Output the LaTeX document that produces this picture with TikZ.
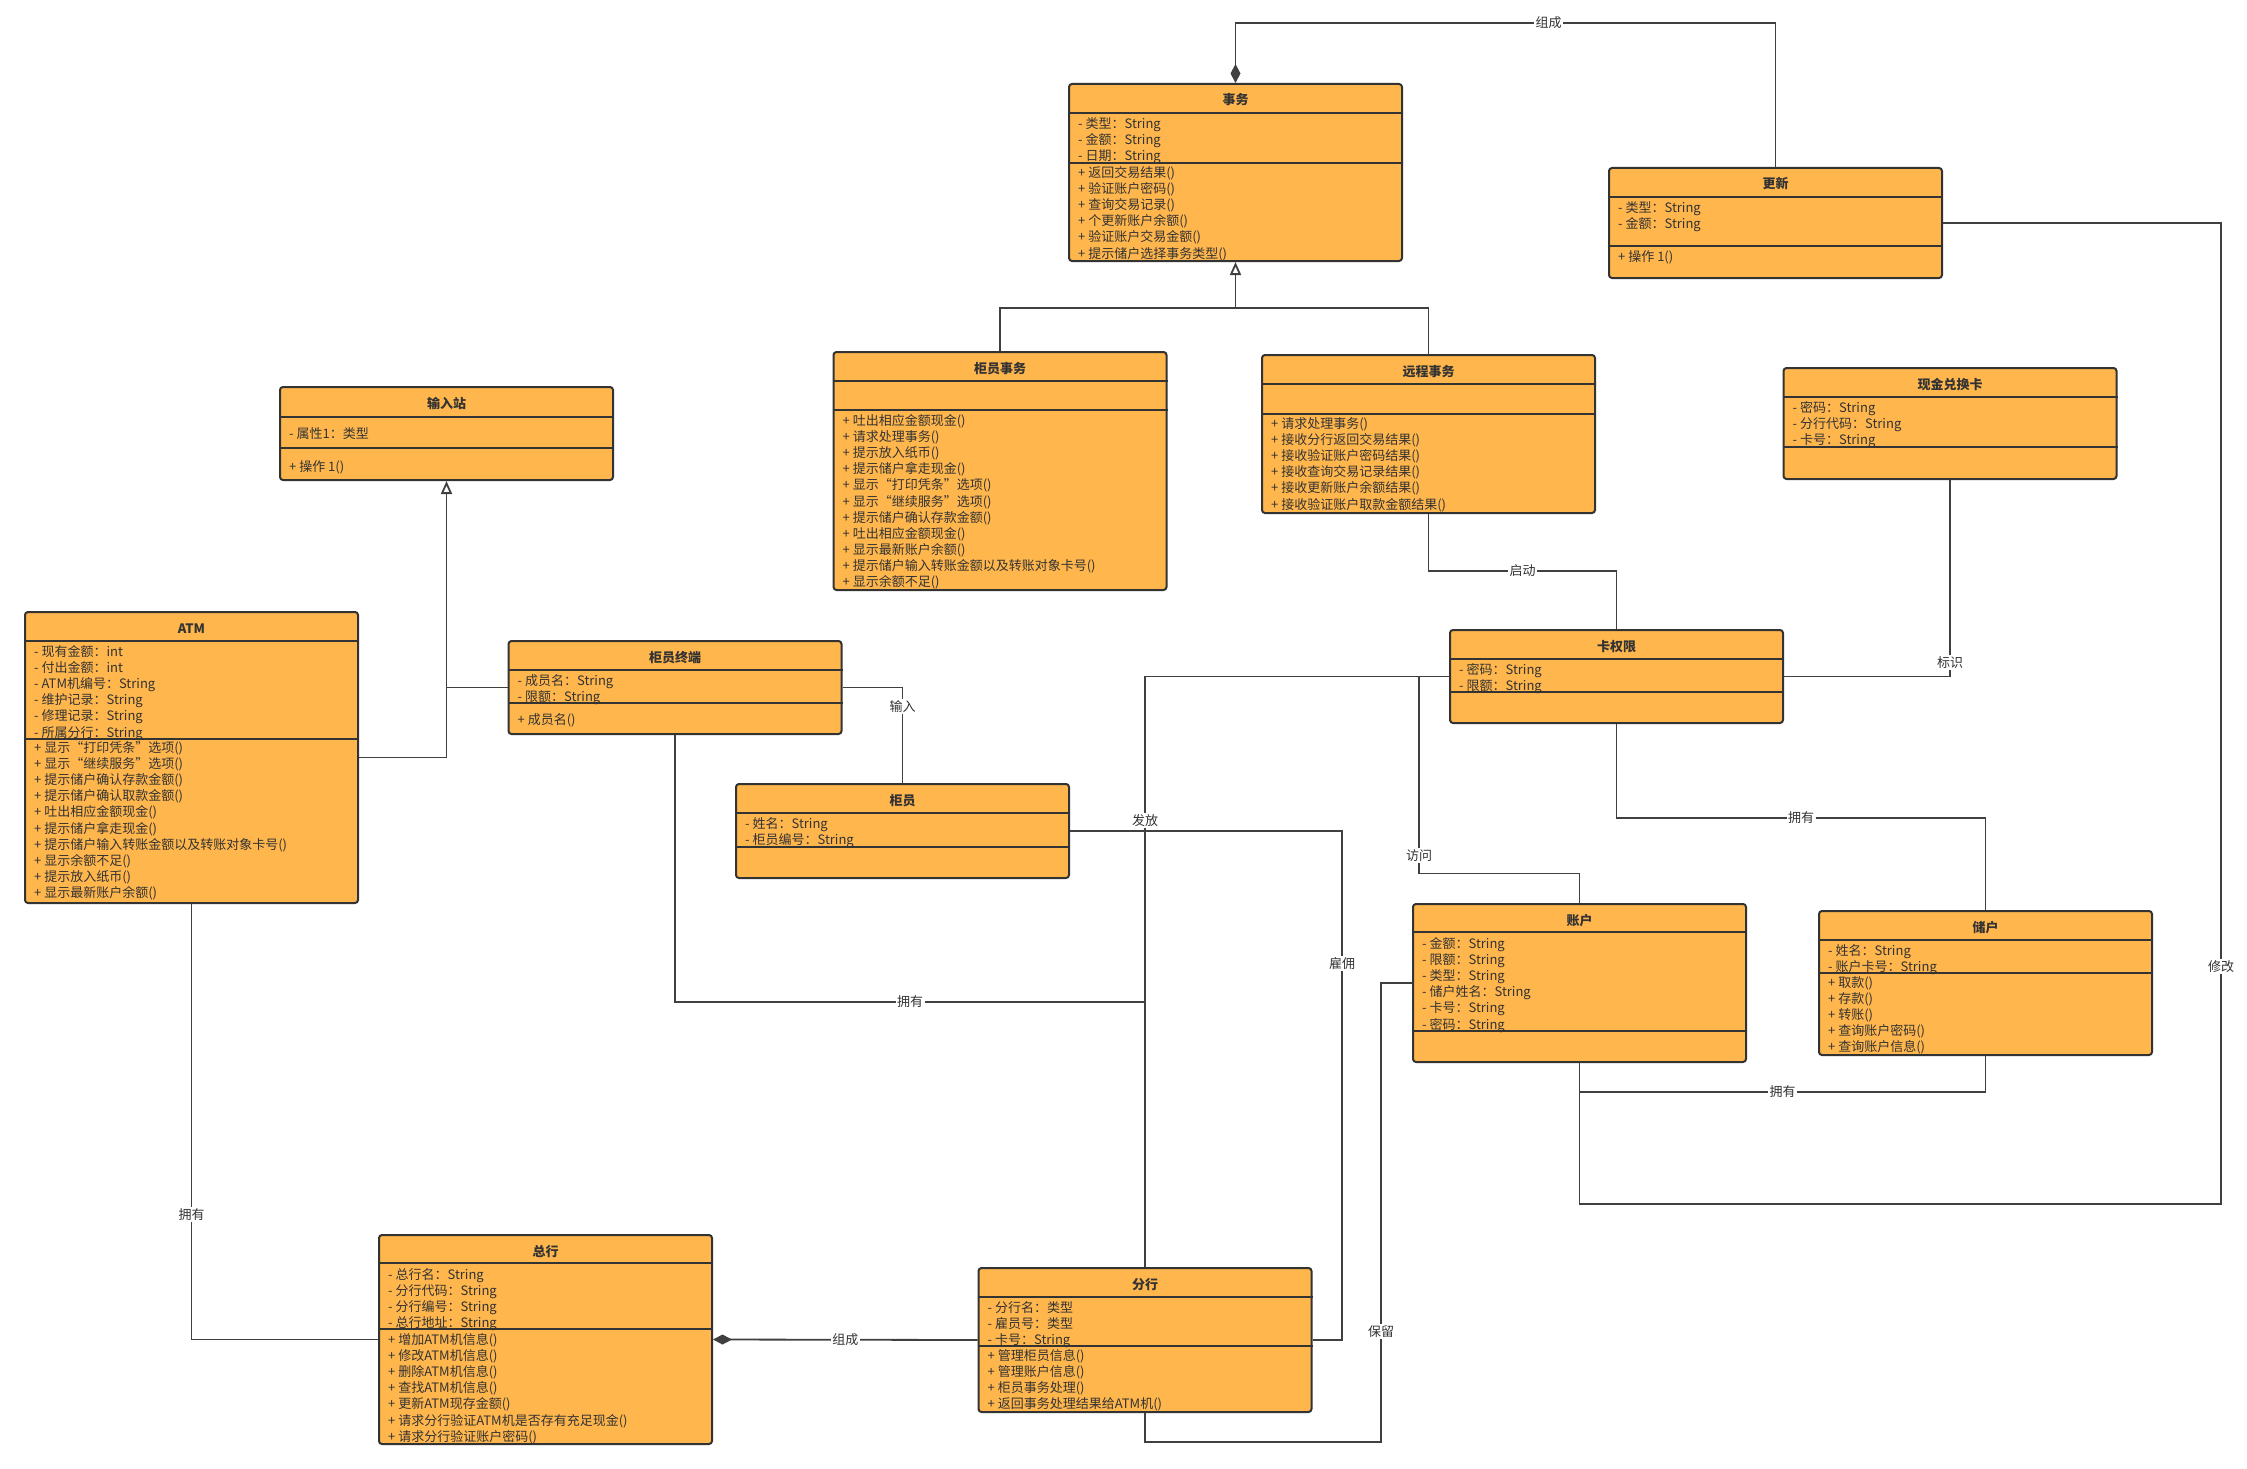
\documentclass[tikz,border=0pt]{standalone}
\usepackage{fontspec}
\setmainfont{Noto Sans CJK SC}
\usetikzlibrary{calc,arrows.meta,positioning}
\definecolor{boxfill}{RGB}{255,182,77}
\definecolor{boxline}{RGB}{51,51,51}
\definecolor{linkline}{RGB}{64,64,64}

% one row per member, baselines 16.1 apart
\newcommand{\members}[4]{%
  \foreach \mline [count=\k from 0] in {#4}{
    \node[member] (#2\k) at ($(#1.north west)+(10,#3+1.5+16.1*\k)$) {\mline};
  }}

\begin{document}
\begin{tikzpicture}[
    x=1pt,y=-1pt,
    >=Stealth,
    every node/.style={font=\fontsize{13}{16}\selectfont},
    umlbox/.style={draw=boxline,fill=boxfill,line width=2pt,rounded corners=3pt,
      minimum width=333,inner sep=0},
    umltitle/.style={anchor=base,inner sep=0,text=boxline,
      font=\fontsize{13}{16}\selectfont\bfseries},
    member/.style={anchor=base west,inner sep=0,text=boxline},
    sepline/.style={draw=boxline,line width=2pt},
    conn/.style={draw=linkline,line width=1.8pt},
    lbl/.style={fill=white,inner sep=1.5pt,text=boxline},
    gentip/.style={-{Triangle[open,length=13pt,width=11pt]}},
    comptip/.style={{Diamond[length=19pt,width=10pt]}-}
]

\useasboundingbox[fill=white] (0,0) rectangle (2247,1469);

% ---------------- classes ----------------

% 事务
\node[umlbox,minimum height=177] (shiwu) at (1235.5,172.5) {};
\node[umltitle] (shiwu-t) at ($(shiwu.north)+(0,22)$) {事务};
\draw[sepline] ($(shiwu.north west)+(0,30)$) -- ($(shiwu.north east)+(0,30)$);
\draw[sepline] ($(shiwu.north west)+(0,80)$) -- ($(shiwu.north east)+(0,80)$);
\members{shiwu}{shiwu-a}{44}{- 类型：String, - 金额：String, - 日期：String}
\members{shiwu}{shiwu-m}{93}{+ 返回交易结果(), + 验证账户密码(), + 查询交易记录(),
  + 个更新账户余额(), + 验证账户交易金额(), + 提示储户选择事务类型()}

% 更新
\node[umlbox,minimum height=110] (gengxin) at (1775.5,223) {};
\node[umltitle] (gengxin-t) at ($(gengxin.north)+(0,22)$) {更新};
\draw[sepline] ($(gengxin.north west)+(0,30)$) -- ($(gengxin.north east)+(0,30)$);
\draw[sepline] ($(gengxin.north west)+(0,79)$) -- ($(gengxin.north east)+(0,79)$);
\members{gengxin}{gengxin-a}{44}{- 类型：String, - 金额：String}
\members{gengxin}{gengxin-m}{93}{+ 操作 1()}

% 现金兑换卡
\node[umlbox,minimum height=111] (xianjin) at (1950,423.5) {};
\node[umltitle] (xianjin-t) at ($(xianjin.north)+(0,22)$) {现金兑换卡};
\draw[sepline] ($(xianjin.north west)+(0,30)$) -- ($(xianjin.north east)+(0,30)$);
\draw[sepline] ($(xianjin.north west)+(0,80)$) -- ($(xianjin.north east)+(0,80)$);
\members{xianjin}{xianjin-a}{44}{- 密码：String, - 分行代码：String, - 卡号：String}

% 柜员事务
\node[umlbox,minimum height=238] (gyshiwu) at (1000,471) {};
\node[umltitle] (gyshiwu-t) at ($(gyshiwu.north)+(0,22)$) {柜员事务};
\draw[sepline] ($(gyshiwu.north west)+(0,30)$) -- ($(gyshiwu.north east)+(0,30)$);
\draw[sepline] ($(gyshiwu.north west)+(0,59)$) -- ($(gyshiwu.north east)+(0,59)$);
\members{gyshiwu}{gyshiwu-m}{73}{+ 吐出相应金额现金(), + 请求处理事务(), + 提示放入纸币(),
  + 提示储户拿走现金(), + 显示“打印凭条”选项(), + 显示“继续服务”选项(),
  + 提示储户确认存款金额(), + 吐出相应金额现金(), + 显示最新账户余额(),
  + 提示储户输入转账金额以及转账对象卡号(), + 显示余额不足()}

% 远程事务
\node[umlbox,minimum height=158] (yuancheng) at (1428.5,434) {};
\node[umltitle] (yuancheng-t) at ($(yuancheng.north)+(0,22)$) {远程事务};
\draw[sepline] ($(yuancheng.north west)+(0,30)$) -- ($(yuancheng.north east)+(0,30)$);
\draw[sepline] ($(yuancheng.north west)+(0,60)$) -- ($(yuancheng.north east)+(0,60)$);
\members{yuancheng}{yuancheng-m}{73}{+ 请求处理事务(), + 接收分行返回交易结果(),
  + 接收验证账户密码结果(), + 接收查询交易记录结果(), + 接收更新账户余额结果(),
  + 接收验证账户取款金额结果()}

% 输入站
\node[umlbox,minimum height=93] (shuru) at (446.5,433.5) {};
\node[umltitle] (shuru-t) at ($(shuru.north)+(0,22)$) {输入站};
\draw[sepline] ($(shuru.north west)+(0,31)$) -- ($(shuru.north east)+(0,31)$);
\draw[sepline] ($(shuru.north west)+(0,62)$) -- ($(shuru.north east)+(0,62)$);
\members{shuru}{shuru-a}{51}{- 属性1：类型}
\members{shuru}{shuru-m}{84}{+ 操作 1()}

% ATM
\node[umlbox,minimum height=291] (atm) at (191.5,757.5) {};
\node[umltitle] (atm-t) at ($(atm.north)+(0,22)$) {ATM};
\draw[sepline] ($(atm.north west)+(0,30)$) -- ($(atm.north east)+(0,30)$);
\draw[sepline] ($(atm.north west)+(0,128)$) -- ($(atm.north east)+(0,128)$);
\members{atm}{atm-a}{44}{- 现有金额：int, - 付出金额：int, - ATM机编号：String,
  - 维护记录：String, - 修理记录：String, - 所属分行：String}
\members{atm}{atm-m}{140}{+ 显示“打印凭条”选项(), + 显示“继续服务”选项(),
  + 提示储户确认存款金额(), + 提示储户确认取款金额(), + 吐出相应金额现金(),
  + 提示储户拿走现金(), + 提示储户输入转账金额以及转账对象卡号(), + 显示余额不足(),
  + 提示放入纸币(), + 显示最新账户余额()}

% 柜员终端
\node[umlbox,minimum height=93] (zhongduan) at (675,687.5) {};
\node[umltitle] (zhongduan-t) at ($(zhongduan.north)+(0,22)$) {柜员终端};
\draw[sepline] ($(zhongduan.north west)+(0,30)$) -- ($(zhongduan.north east)+(0,30)$);
\draw[sepline] ($(zhongduan.north west)+(0,63)$) -- ($(zhongduan.north east)+(0,63)$);
\members{zhongduan}{zhongduan-a}{44}{- 成员名：String, - 限额：String}
\members{zhongduan}{zhongduan-m}{83}{+ 成员名()}

% 柜员
\node[umlbox,minimum height=94] (guiyuan) at (902.5,831) {};
\node[umltitle] (guiyuan-t) at ($(guiyuan.north)+(0,22)$) {柜员};
\draw[sepline] ($(guiyuan.north west)+(0,30)$) -- ($(guiyuan.north east)+(0,30)$);
\draw[sepline] ($(guiyuan.north west)+(0,64)$) -- ($(guiyuan.north east)+(0,64)$);
\members{guiyuan}{guiyuan-a}{44}{- 姓名：String, - 柜员编号：String}

% 卡权限
\node[umlbox,minimum height=93] (quanxian) at (1616.5,676.5) {};
\node[umltitle] (quanxian-t) at ($(quanxian.north)+(0,22)$) {卡权限};
\draw[sepline] ($(quanxian.north west)+(0,30)$) -- ($(quanxian.north east)+(0,30)$);
\draw[sepline] ($(quanxian.north west)+(0,63)$) -- ($(quanxian.north east)+(0,63)$);
\members{quanxian}{quanxian-a}{44}{- 密码：String, - 限额：String}

% 账户
\node[umlbox,minimum height=158] (zhanghu) at (1579.5,983) {};
\node[umltitle] (zhanghu-t) at ($(zhanghu.north)+(0,22)$) {账户};
\draw[sepline] ($(zhanghu.north west)+(0,29)$) -- ($(zhanghu.north east)+(0,29)$);
\draw[sepline] ($(zhanghu.north west)+(0,128)$) -- ($(zhanghu.north east)+(0,128)$);
\members{zhanghu}{zhanghu-a}{44}{- 金额：String, - 限额：String, - 类型：String,
  - 储户姓名：String, - 卡号：String, - 密码：String}

% 储户
\node[umlbox,minimum height=144] (chuhu) at (1985.5,983) {};
\node[umltitle] (chuhu-t) at ($(chuhu.north)+(0,22)$) {储户};
\draw[sepline] ($(chuhu.north west)+(0,30)$) -- ($(chuhu.north east)+(0,30)$);
\draw[sepline] ($(chuhu.north west)+(0,63)$) -- ($(chuhu.north east)+(0,63)$);
\members{chuhu}{chuhu-a}{44}{- 姓名：String, - 账户卡号：String}
\members{chuhu}{chuhu-m}{76}{+ 取款(), + 存款(), + 转账(), + 查询账户密码(), + 查询账户信息()}

% 总行
\node[umlbox,minimum height=209] (zonghang) at (545.5,1339.5) {};
\node[umltitle] (zonghang-t) at ($(zonghang.north)+(0,22)$) {总行};
\draw[sepline] ($(zonghang.north west)+(0,29)$) -- ($(zonghang.north east)+(0,29)$);
\draw[sepline] ($(zonghang.north west)+(0,95)$) -- ($(zonghang.north east)+(0,95)$);
\members{zonghang}{zonghang-a}{44}{- 总行名：String, - 分行代码：String, - 分行编号：String,
  - 总行地址：String}
\members{zonghang}{zonghang-m}{109}{+ 增加ATM机信息(), + 修改ATM机信息(), + 删除ATM机信息(),
  + 查找ATM机信息(), + 更新ATM现存金额(), + 请求分行验证ATM机是否存有充足现金(),
  + 请求分行验证账户密码()}

% 分行
\node[umlbox,minimum height=144] (fenhang) at (1145,1340) {};
\node[umltitle] (fenhang-t) at ($(fenhang.north)+(0,22)$) {分行};
\draw[sepline] ($(fenhang.north west)+(0,30)$) -- ($(fenhang.north east)+(0,30)$);
\draw[sepline] ($(fenhang.north west)+(0,79)$) -- ($(fenhang.north east)+(0,79)$);
\members{fenhang}{fenhang-a}{44}{- 分行名：类型, - 雇员号：类型, - 卡号：String}
\members{fenhang}{fenhang-m}{92}{+ 管理柜员信息(), + 管理账户信息(), + 柜员事务处理(),
  + 返回事务处理结果给ATM机()}

% ---------------- connectors ----------------

% generalisation to 输入站
\draw[conn,gentip] (atm.east) -| (shuru.south);
\draw[conn] (zhongduan.west) -- (zhongduan.west -| shuru.south);

% generalisation to 事务
\coordinate (genjoin) at ($(shiwu.south)+(0,46)$);
\draw[conn] (gyshiwu.north) |- (genjoin);
\draw[conn] (yuancheng.north) |- (genjoin);
\draw[conn,gentip] (genjoin) -- (shiwu.south);

% composition
\draw[conn,comptip] (shiwu.north) -- ++(0,-60) -| node[lbl,pos=0.29] {组成} (gengxin.north);
\draw[conn,comptip] (zonghang.east) -- node[lbl] {组成} (fenhang.west);

% associations
\draw[conn] (yuancheng.south) -- ++(0,57) -| node[lbl,pos=0.25] {启动} (quanxian.north);
\draw[conn] (quanxian.east) -| node[lbl,pos=0.535] {标识} (xianjin.south);
\draw[conn] (quanxian.south) -- ++(0,94) -| node[lbl,pos=0.25] {拥有} (chuhu.north);
\draw[conn] (quanxian.west) -| node[lbl,pos=0.622] {发放} (fenhang.north);
\draw[conn] (quanxian.west) -- ++(-30,0) -- ++(0,197) node[lbl,pos=0.91] {访问} -| (zhanghu.north);
\draw[conn] (zhongduan.east) -| node[lbl,pos=0.6] {输入} (guiyuan.north);
\draw[conn] (guiyuan.east) -- ++(272,0) |- node[lbl,pos=0.13] {雇佣} (fenhang.east);
\draw[conn] (zhanghu.west) -- ++(-31,0) -- ++(0,459) node[lbl,pos=0.76] {保留} -| (fenhang.south);
\draw[conn] (zhongduan.south) -- ++(0,267) -| node[lbl,pos=0.25] {拥有} (fenhang.north);
\draw[conn] (atm.south) |- node[lbl,pos=0.356] {拥有} (zonghang.west);
\draw[conn] (zhanghu.south) -- ++(0,29) -| node[lbl,pos=0.25] {拥有} (chuhu.south);
\draw[conn] (gengxin.east) -- ++(278,0) -- ++(0,981) node[lbl,pos=0.758] {修改} -| (zhanghu.south);

\end{tikzpicture}
\end{document}
